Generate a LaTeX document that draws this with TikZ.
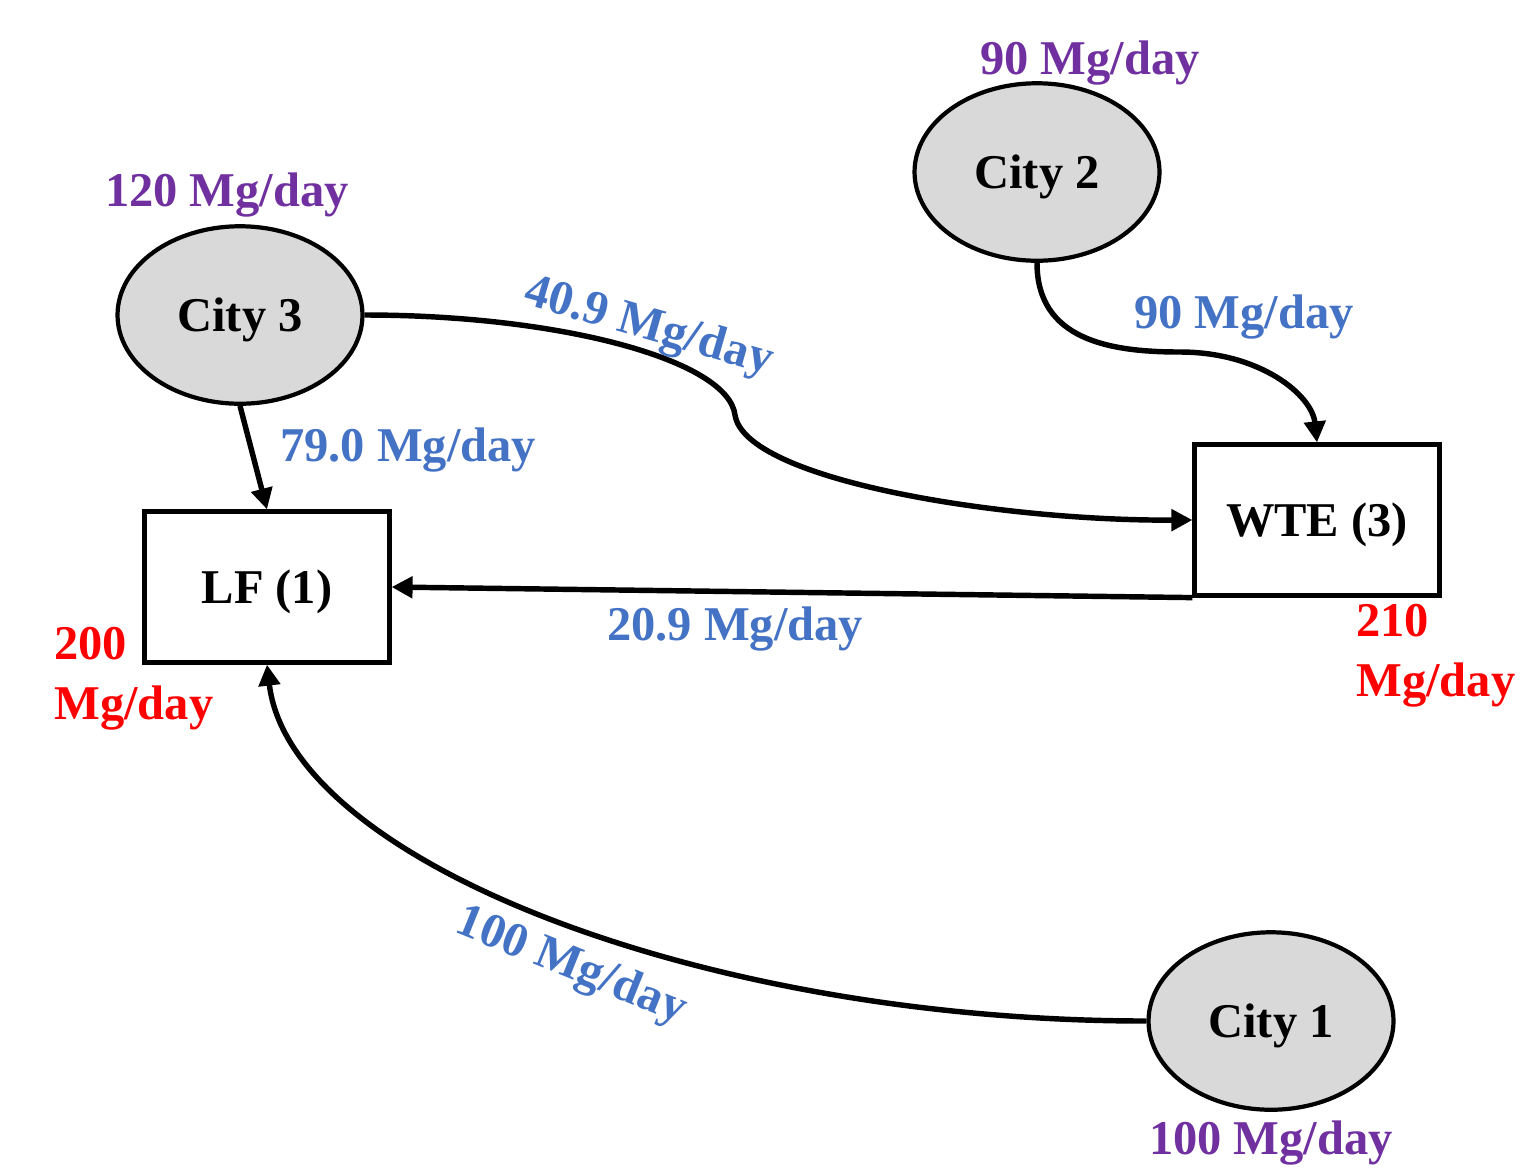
\documentclass[tikz,border=0pt]{standalone}
\usepackage{fontspec}
\setmainfont{Liberation Serif}
\usetikzlibrary{shapes.geometric,arrows.meta}

\definecolor{flowblue}{HTML}{4472C4}
\definecolor{supplypurple}{HTML}{7030A0}
\definecolor{cityfill}{HTML}{D9D9D9}

\begin{document}
\begin{tikzpicture}[x=0.02cm,y=-0.02cm]

\tikzset{city/.style={ellipse,draw=black,fill=cityfill,line width=2.4pt,inner sep=0pt,text depth=0pt,
        minimum width=4.9cm,minimum height=3.55cm,font=\fontsize{27.6}{30}\selectfont\bfseries},
    plant/.style={rectangle,draw=black,line width=2.4pt,inner sep=0pt,text depth=0pt,
        minimum width=4.9cm,minimum height=3.02cm,font=\fontsize{27.6}{30}\selectfont\bfseries},
    flow/.style={-{Triangle[length=0.42cm,width=0.42cm]},line width=3.1pt},
    lbl/.style={font=\fontsize{27.6}{30}\selectfont\bfseries,inner sep=0pt,text depth=0pt}}

\useasboundingbox (0,0) rectangle (1540,1174);

%% Cities
\node[city] (city2) at (1037,172) {City 2};
\node[city] (city3) at (240,315) {City 3};
\node[city] (city1) at (1271,1021) {City 1};

%% Facilities
\node[plant] (lf) at (267,587) {LF (1)};
\node[plant] (wte) at (1317,520) {WTE (3)};

%% Generation
\node[lbl,text=supplypurple] (gen2) at (1090,58) {90 Mg/day};
\node[lbl,text=supplypurple] (gen3) at (227,190) {120 Mg/day};
\node[lbl,text=supplypurple] (gen1) at (1271,1138) {100 Mg/day};

%% Capacities
\node[lbl,text=red,align=left,anchor=north west] (caplf) at (54,627) {200\\[0.14cm]Mg/day};
\node[lbl,text=red,align=left,anchor=north west] (capwte) at (1356,604) {210\\[0.14cm]Mg/day};

%% Flows
\coordinate (wtecorner) at (wte.south west);
\draw[flow] (city2.south) .. controls (1037,340) and (1110,352) .. (1180,352)
    .. controls (1260,352) and (1312,395) .. (wte.north);
\draw[flow] (city3.east) .. controls (560,315) and (728,360) .. (735,415)
    .. controls (745,480) and (1000,521) .. (wte.west);
\draw[flow] (city3.south) -- (lf.north);
\draw[flow] (wtecorner) -- (lf.east);
\draw[flow] (city1.west) .. controls (700,1021) and (290,860) .. (lf.south);

%% Flow labels
\node[lbl,text=flowblue] (f32) at (1244,312) {90 Mg/day};
\node[lbl,text=flowblue] (f31) at (408,445) {79.0 Mg/day};
\node[lbl,text=flowblue,rotate=-16] (f33) at (650,323) {40.9 Mg/day};
\node[lbl,text=flowblue] (f13) at (735,624) {20.9 Mg/day};
\node[lbl,text=flowblue,rotate=-22] (f11) at (573,962) {100 Mg/day};

\end{tikzpicture}
\end{document}
